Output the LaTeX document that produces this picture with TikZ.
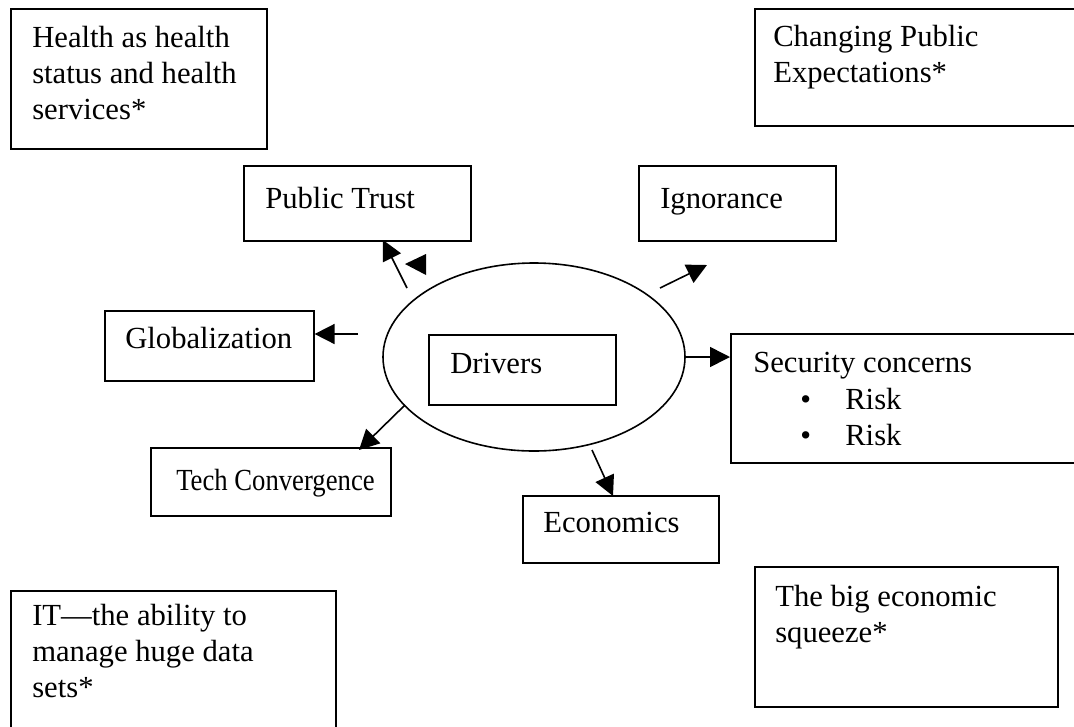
\documentclass[tikz,border=0pt]{standalone}
\usepackage{fontspec}
\setmainfont{Liberation Serif}
\usetikzlibrary{
    positioning,
    arrows.meta,
    shapes.geometric
}

\tikzset{
    box/.style={draw, line width=1.2pt, rectangle, anchor=north west, inner sep=0pt},
    txt/.style={anchor=base west, inner sep=0pt, align=left, font=\fontsize{23}{27}\selectfont},
    arr/.style={line width=1.2pt, -{Triangle[length=15pt, width=15pt]}}
}

\begin{document}
\begin{tikzpicture}[x=0.75pt, y=-0.75pt]
            \clip (0,0) rectangle (1074,726);
            \fill[white] (0,0) rectangle (1074,726);

            % outer boxes
            \node[box, minimum width=192pt, minimum height=105pt] (health) at (10,8) {};
            \node[box, minimum width=247.5pt, minimum height=87.75pt] (change) at (754,8) {};
            \node[box, minimum width=243.75pt, minimum height=112.5pt] (it) at (10,590) {};
            \node[box, minimum width=227.25pt, minimum height=105pt] (squeeze) at (754,566) {};

            % driver boxes
            \node[box, minimum width=170.25pt, minimum height=56.25pt] (trust) at (243,165) {};
            \node[box, minimum width=147.75pt, minimum height=56.25pt] (ignor) at (638,165) {};
            \node[box, minimum width=156.75pt, minimum height=52.5pt] (glob) at (104,310) {};
            \node[box, minimum width=262.5pt, minimum height=96.75pt] (sec) at (730,333) {};
            \node[box, minimum width=180pt, minimum height=51pt] (tech) at (150,447) {};
            \node[box, minimum width=147pt, minimum height=50.25pt] (econ) at (522,495) {};

            % centre
            \node[draw, ellipse, line width=1.2pt, minimum width=226.5pt, minimum height=141pt, inner sep=0pt] (ell) at (534,357) {};
            \node[box, minimum width=140.25pt, minimum height=52.5pt] (drivers) at (428,334) {};

            % texts (multi-line ones sit on their last baseline)
            \node[txt] (healthtxt) at (32,119) {Health as health\\status and health\\services*};
            \node[txt] (changetxt) at (773,82) {Changing Public\\Expectations*};
            \node[txt] (ittxt) at (32,697) {IT---the ability to\\manage huge data\\sets*};
            \node[txt] (squeezetxt) at (775,642) {The big economic\\squeeze*};
            \node[txt] (trusttxt) at (265,208) {Public Trust};
            \node[txt] (ignortxt) at (660,208) {Ignorance};
            \node[txt] (globtxt) at (125,348) {Globalization};
            \node[txt] (sectxt) at (753,372) {Security concerns};
            \node[txt] (bul1) at (800,409) {•};
            \node[txt] (risk1) at (845,409) {Risk};
            \node[txt] (bul2) at (800,445) {•};
            \node[txt] (risk2) at (845,445) {Risk};
            \node[txt, font=\fontsize{23}{27}\selectfont\addfontfeature{FakeStretch=0.87}] (techtxt) at (176,490) {Tech Convergence};
            \node[txt] (econtxt) at (543,532) {Economics};
            \node[txt] (drvtxt) at (450,373) {Drivers};

            % arrow ends
            \coordinate (ts) at (407,288);
            \coordinate (te) at (383,240);
            \coordinate (gs) at (358,334);
            \coordinate (is) at (660,288);
            \coordinate (ie) at (707,265);
            \coordinate (es) at (592,450);
            \coordinate (ee) at (613,496);
            \coordinate (ks) at (405,405);
            \coordinate (ke) at (359,450);

            \draw[arr] (ts) -- (te);
            \draw[arr] (gs) -- (gs -| glob.east);
            \draw[arr] (is) -- (ie);
            \draw[arr] (ell.east) -- (ell.east -| sec.west);
            \draw[arr] (es) -- (ee);
            \draw[arr] (ks) -- (ke);
            \fill (405,264) -- (426,254) -- (426,275) -- cycle;
        \end{tikzpicture}
\end{document}
